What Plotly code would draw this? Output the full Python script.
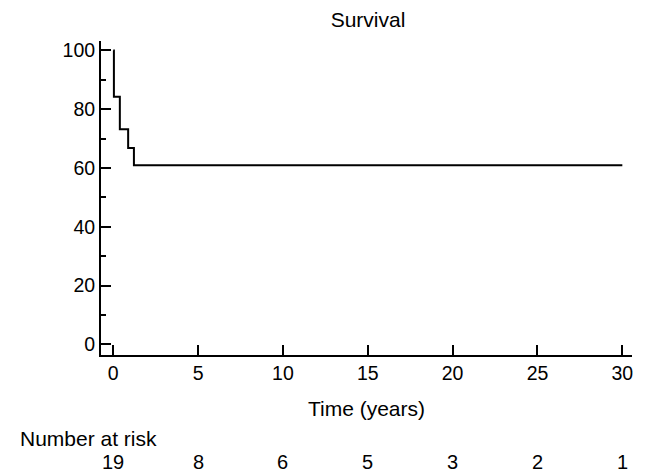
import plotly.graph_objects as go

# Kaplan-Meier step curve (time in years, survival %)
km_time = [0.0, 0.04, 0.39, 0.88, 1.22, 30.0]
km_surv = [100.0, 84.2, 73.2, 66.8, 60.9, 60.9]

# Number at risk table
risk_time = [0, 5, 10, 15, 20, 25, 30]
risk_n = [19, 8, 6, 5, 3, 2, 1]

x_ticks = [0, 5, 10, 15, 20, 25, 30]
y_ticks = [0, 20, 40, 60, 80, 100]

FONT = "Liberation Sans, Arial, Helvetica, sans-serif"
FS = 21
TFS = 19.5

fig = go.Figure()
fig.add_trace(go.Scatter(
    x=km_time, y=km_surv, mode="lines", line_shape="hv",
    line=dict(color="black", width=2), showlegend=False, hoverinfo="skip"))

annotations = []
for t, n in zip(risk_time, risk_n):
    annotations.append(dict(x=t, y=-0.341, xref="x", yref="paper", text=str(n),
                            showarrow=False, xanchor="center", yanchor="middle",
                            font=dict(size=20, color="black", family=FONT)))
annotations.append(dict(x=-0.156, y=-0.2675, xref="paper", yref="paper",
                        text="Number at risk", showarrow=False,
                        xanchor="left", yanchor="middle",
                        font=dict(size=FS, color="black", family=FONT)))

fig.update_layout(
    width=646, height=473,
    margin=dict(l=101, r=14, t=41, b=118),
    paper_bgcolor="white", plot_bgcolor="white",
    font=dict(family=FONT, size=TFS, color="black"),
    title=dict(text="Survival", x=368 / 646, xref="container", y=1 - 20 / 473,
               yref="container", xanchor="center", yanchor="middle",
               font=dict(size=FS, family=FONT, color="black")),
    annotations=annotations,
    xaxis=dict(range=[-0.72, 30.57], tickvals=x_ticks, ticks="inside",
               ticklen=10, tickwidth=2, tickcolor="black",
               tickfont=dict(size=TFS),
               showline=True, linecolor="black", linewidth=2,
               showgrid=False, zeroline=False, fixedrange=True,
               title=dict(text="Time (years)", standoff=18,
                          font=dict(size=FS, family=FONT))),
    yaxis=dict(range=[-3.64, 103.2], tickvals=y_ticks, ticks="inside",
               ticklen=10, tickwidth=2, tickcolor="black",
               tickfont=dict(size=TFS), ticksuffix="\u00a0",
               minor=dict(tickvals=[10, 30, 50, 70, 90], ticks="inside",
                          ticklen=5, tickwidth=2, tickcolor="black"),
               showline=True, linecolor="black", linewidth=2,
               showgrid=False, zeroline=False, fixedrange=True),
)

fig.write_html("out.html", config={"displayModeBar": False},
               post_script="document.body.style.margin='0';")
